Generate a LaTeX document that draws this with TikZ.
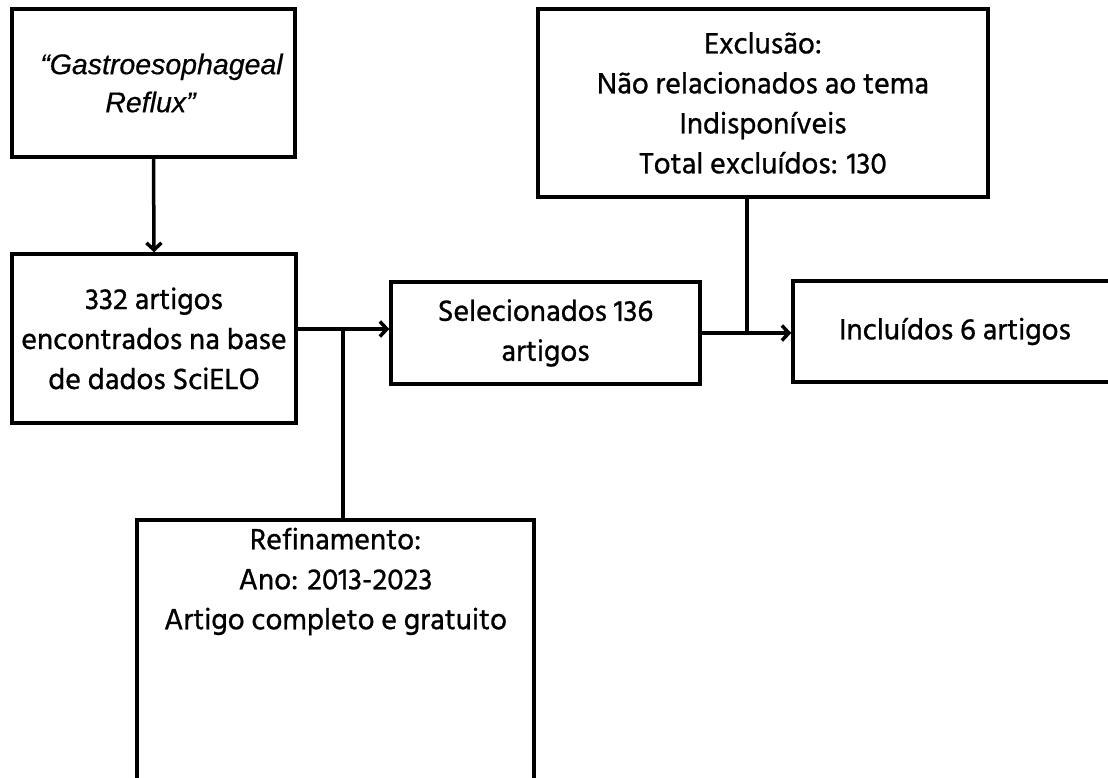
\documentclass[tikz,border=0pt]{standalone}
\usepackage{fontspec}
\setmainfont{Hind Siliguri}[FakeBold=0.9]
\newfontfamily\quotefont{Liberation Sans}[FakeBold=0.5]
\usetikzlibrary{arrows.meta}
\tikzset{
  box/.style={draw=black, line width=3.5pt, rectangle, inner sep=0pt, align=center,
    font=\fontsize{30}{40}\selectfont},
  conn/.style={line width=3.5pt, draw=black},
  arr/.style={conn, -{Straight Barb[length=7pt,width=15pt,line width=3.5pt]}},
}
\begin{document}
\begin{tikzpicture}[x=1pt,y=-1pt]
\useasboundingbox (0,0) rectangle (1108,778);
\begin{scope}
\clip (0,0) rectangle (1108,778);
\node[box, minimum width=283pt, minimum height=148pt,
  font=\quotefont\itshape\fontsize{28.5}{38}\selectfont] (b1) at (153.5,83)
  {\hspace*{16pt}“Gastroesophageal\\ \hspace*{-6pt}Reflux”};
\node[box, minimum width=284pt, minimum height=169pt] (b2) at (154,338.5)
  {332 artigos\\encontrados na base\\de dados SciELO};
\node[box, minimum width=309pt, minimum height=102pt] (b3) at (545.5,333)
  {Selecionados 136\\artigos};
\node[box, minimum width=450pt, minimum height=188pt] (b4) at (763,103)
  {Exclusão:\\Não relacionados ao tema\\Indisponíveis\\Total excluídos: 130};
\node[box, minimum width=330pt, minimum height=101pt] (b5) at (958,331.5)
  {\hspace*{-6pt}Incluídos 6 artigos};
\node[box, minimum width=397pt, minimum height=290pt] (b6) at (335.5,665) {};
\node[box, draw=none, anchor=north] (t6) at (335.5,526)
  {Refinamento:\\Ano: 2013-2023\\Artigo completo e gratuito};
\end{scope}
\coordinate (j1) at (343,329);
\coordinate (j2) at (747,333);
\draw[arr] (b1.south) -- (b2.north);
\draw[arr] (b2.east |- j1) -- (j1) -- (b3.west |- j1);
\draw[conn] (b6.north -| j1) -- (j1);
\draw[arr] (b3.east |- j2) -- (j2) -- (b5.west |- j2);
\draw[conn] (b4.south -| j2) -- (j2);
\end{tikzpicture}
\end{document}
